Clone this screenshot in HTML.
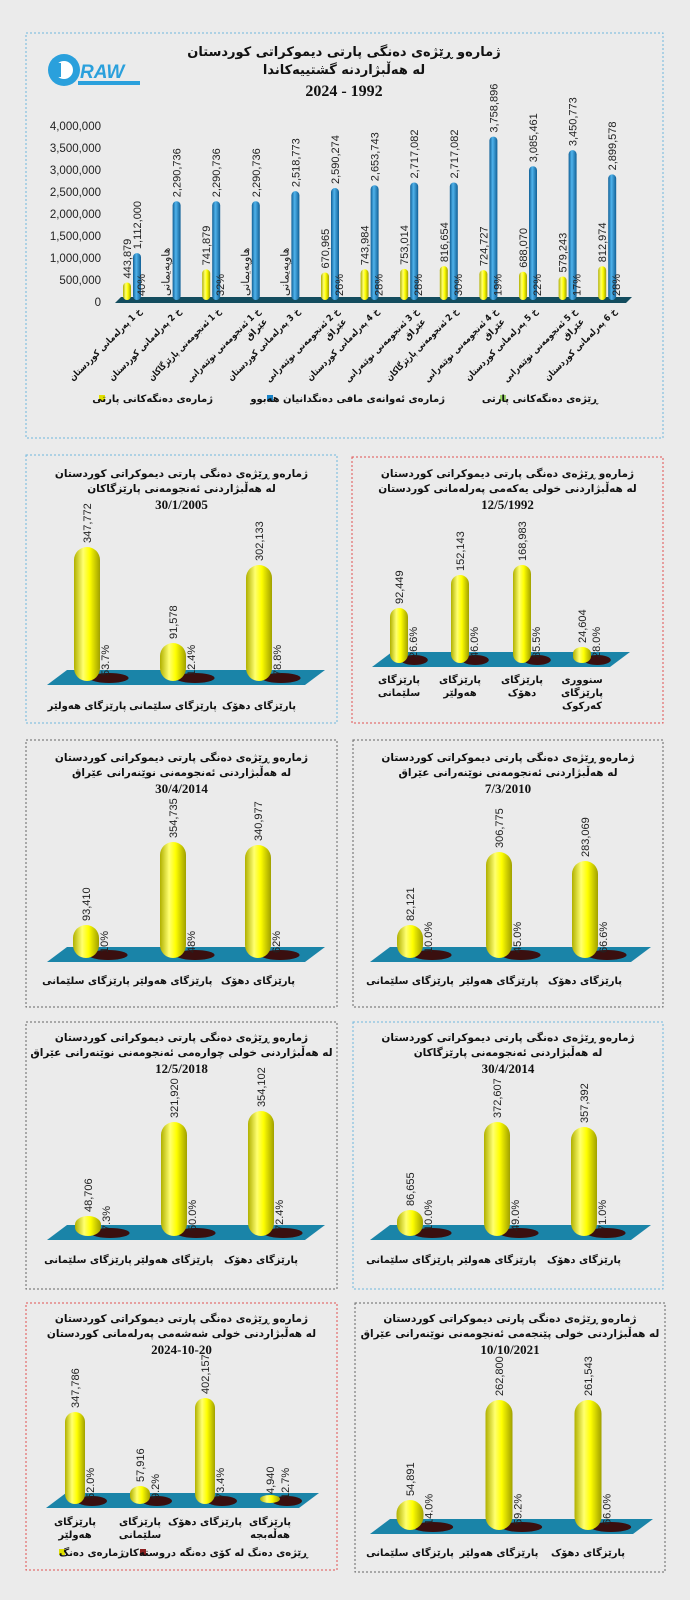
<!DOCTYPE html>
<html><head><meta charset="utf-8">
<style>
html,body{margin:0;padding:0;background:#ebebeb;}
svg{display:block;}
.t{font-family:"DejaVu Sans","Liberation Sans",sans-serif;font-weight:bold;font-size:10.5px;fill:#111;}
.d{font-family:"Liberation Serif",serif;font-weight:bold;font-size:13px;fill:#111;}
.v{font-family:"Liberation Sans",sans-serif;font-size:11px;fill:#222;}
.c{font-family:"DejaVu Sans","Liberation Sans",sans-serif;font-weight:bold;font-size:10px;fill:#111;}
</style></head><body>
<svg id="s" width="690" height="1600" xmlns="http://www.w3.org/2000/svg">
<defs>
<linearGradient id="yg" x1="0" x2="1" y1="0" y2="0"><stop offset="0" stop-color="#b0b000"/><stop offset="0.35" stop-color="#ffff70"/><stop offset="0.6" stop-color="#ffff00"/><stop offset="1" stop-color="#a0a000"/></linearGradient>
<linearGradient id="bg" x1="0" x2="1" y1="0" y2="0"><stop offset="0" stop-color="#115f95"/><stop offset="0.4" stop-color="#4fb3ec"/><stop offset="1" stop-color="#115f95"/></linearGradient>
</defs>
</svg>
<script>
var s=document.getElementById('s'),h='';
function T(x,y,txt,cls,extra){h+='<text x="'+x+'" y="'+y+'" class="'+cls+'" '+(extra||'')+'>'+txt+'</text>';}
function R(x,y,txt,cls){h+='<text class="'+cls+'" transform="translate('+x+','+y+') rotate(-90)">'+txt+'</text>';}
var L1="ژمارەو ڕێژەی دەنگی پارتی دیموکراتی کوردستان";
function panel(x0,y0,x1,y1,col,t2,date,ty,fy,fx0,fx1,bw,bars,ly){
 h+='<rect x="'+x0+'" y="'+y0+'" width="'+(x1-x0)+'" height="'+(y1-y0)+'" fill="none" stroke="'+col+'" stroke-dasharray="2,2" stroke-width="1"/>';
 var cx=(x0+x1)/2;
 T(cx,ty,L1,'t','text-anchor="middle"');T(cx,ty+15,t2,'t','text-anchor="middle"');T(cx,ty+32,date,'d','text-anchor="middle"');
 h+='<polygon points="'+fx0+','+(fy+7)+' '+(fx0+20)+','+(fy-8)+' '+fx1+','+(fy-8)+' '+(fx1-20)+','+(fy+7)+'" fill="#1a84a8"/>';
 bars.forEach(function(b){
  h+='<ellipse cx="'+(b[0]+bw*0.85)+'" cy="'+fy+'" rx="'+(bw*0.75)+'" ry="5" fill="#3a0f0f"/>';
  var ht=fy-b[1];
  if(ht<bw*0.6){h+='<ellipse cx="'+b[0]+'" cy="'+(fy-2)+'" rx="'+(bw/2)+'" ry="4" fill="url(#yg)"/>';}
  else h+='<rect x="'+(b[0]-bw/2)+'" y="'+b[1]+'" width="'+bw+'" height="'+(ht+3)+'" rx="'+(bw/2)+'" ry="'+Math.min(bw/2,ht/2)+'" fill="url(#yg)"/>';
  R(b[0]+4,b[1]-4,b[2],'v');R(b[0]+bw/2+9,fy-2,b[3],'v');
  b[4].forEach(function(l,i){T(b[0],ly+i*13,l,'c','text-anchor="middle"');});
 });
}
// top chart
h+='<rect x="26" y="33" width="637" height="405" fill="none" stroke="#6fb7de" stroke-dasharray="2,2"/>';
h+='<circle cx="64" cy="70" r="16" fill="#2aa0dc"/><circle cx="64" cy="70" r="9" fill="#fff"/><rect x="52" y="63" width="9" height="14" fill="#2aa0dc"/>';
T(80,78,'RAW','t','style="font-family:Liberation Sans;font-size:19px;font-style:italic;fill:#2aa0dc"');
h+='<rect x="78" y="81" width="62" height="4" fill="#2aa0dc"/>';
T(344,56,L1,'t','text-anchor="middle" style="font-size:13px"');
T(344,74,'لە هەڵبژاردنە گشتییەکاندا','t','text-anchor="middle" style="font-size:13px"');
T(344,96,'2024 - 1992','d','text-anchor="middle" style="font-size:16px"');
for(var i=0;i<=8;i++){var yy=302-i*22;T(101,yy+4,(i*500000).toLocaleString('en-US'),'v','text-anchor="end" style="font-size:11.5px"');}
h+='<polygon points="115,303 121,297 632,297 626,303" fill="#134c5e"/>';
var blue=[1112000,2290736,2290736,2290736,2518773,2590274,2653743,2717082,2717082,3758896,3085461,3450773,2899578];
var yel=[443879,null,741879,null,null,670965,743984,753014,816654,724727,688070,579243,812974];
var pct=['40%','','32%','','','26%','28%','28%','30%','19%','22%','17%','28%'];
var xl=['خ 1 پەرلەمانی کوردستان','خ 2 پەرلەمانی کوردستان','خ 1 ئەنجومەنی پارێزگاکان','خ 1 ئەنجومەنی نوێنەرانی|عێراق','خ 3 پەرلەمانی کوردستان','خ 2 ئەنجومەنی نوێنەرانی|عێراق','خ 4 پەرلەمانی کوردستان','خ 3 ئەنجومەنی نوێنەرانی|عێراق','خ 2 ئەنجومەنی پارێزگاکان','خ 4 ئەنجومەنی نوێنەرانی|عێراق','خ 5 پەرلەمانی کوردستان','خ 5 ئەنجومەنی نوێنەرانی|عێراق','خ 6 پەرلەمانی کوردستان'];
var k=44e-6;
for(var i=0;i<13;i++){
 var x=127+i*39.6,bx=x+10;
 var bt=302-blue[i]*k;
 h+='<rect x="'+(bx-4)+'" y="'+bt+'" width="8" height="'+(300-bt)+'" rx="4" fill="url(#bg)"/>';
 R(bx+4,bt-4,blue[i].toLocaleString('en-US'),'v');
 if(yel[i]){var yt=302-yel[i]*k;h+='<rect x="'+(x-4)+'" y="'+yt+'" width="8" height="'+(300-yt)+'" rx="4" fill="url(#yg)"/>';R(x+4,yt-4,yel[i].toLocaleString('en-US'),'v');}
 else R(x+3,296,'هاوپەیمانی','v');
 if(pct[i])R(bx+8,296,pct[i],'v');
 var parts=xl[i].split('|');
 h+='<g transform="translate('+(x+15)+',312) rotate(-45)">';
 h+='<text class="c" x="0" y="0" text-anchor="end" style="font-size:9px" textLength="'+(parts.length>1?100:98)+'" lengthAdjust="spacingAndGlyphs">'+parts[0]+'</text>';
 if(parts[1])h+='<text class="c" x="-2" y="12" text-anchor="end" style="font-size:9px">'+parts[1]+'</text>';
 h+='</g>';
}
h+='<rect x="99" y="395" width="6" height="6" fill="#e0e000"/>';T(213,402,'ژمارەی دەنگەکانی پارتی','c','text-anchor="end"');
h+='<rect x="267" y="395" width="6" height="6" fill="#1a84c8"/>';T(445,402,'ژمارەی ئەوانەی مافی دەنگدانیان هەبوو','c','text-anchor="end"');
h+='<rect x="500" y="395" width="6" height="6" fill="#9bd36a"/>';T(598,402,'ڕێژەی دەنگەکانی پارتی','c','text-anchor="end"');
var HW='پارێزگای هەولێر',SL='پارێزگای سلێمانی',DH='پارێزگای دهۆک';
panel(26,455,337,723,'#6fb7de','لە هەڵبژاردنی ئەنجومەنی پارێزگاکان','30/1/2005',477,678,47,325,26,
 [[87,547,'347,772','53.7%',[HW]],[173,643,'91,578','12.4%',[SL]],[259,565,'302,133','78.8%',[DH]]],709);
panel(352,457,663,723,'#e05050','لە هەڵبژاردنی خولی یەکەمی پەرلەمانی کوردستان','12/5/1992',477,660,372,630,18,
 [[399,608,'92,449','26.6%',['پارێزگای','سلێمانی']],[460,575,'152,143','46.0%',['پارێزگای','هەولێر']],[522,565,'168,983','85.5%',['پارێزگای','دهۆک']],[582,647,'24,604','28.0%',['سنووری','پارێزگای','کەرکوک']]],683);
panel(26,740,337,1007,'#666','لە هەڵبژاردنی ئەنجومەنی نوێنەرانی عێراق','30/4/2014',761,955,47,325,26,
 [[86,925,'93,410','10%',[SL]],[173,842,'354,735','48%',[HW]],[258,845,'340,977','62%',[DH]]],984);
panel(353,740,663,1007,'#666','لە هەڵبژاردنی ئەنجومەنی نوێنەرانی عێراق','7/3/2010',761,955,370,651,26,
 [[410,925,'82,121','10.0%',[SL]],[499,852,'306,775','45.0%',[HW]],[585,861,'283,069','66.6%',[DH]]],984);
panel(26,1022,337,1289,'#666','لە هەڵبژاردنی خولی چوارەمی ئەنجومەنی نوێنەرانی عێراق','12/5/2018',1041,1233,47,325,26,
 [[88,1216,'48,706','7.3%',[SL]],[174,1122,'321,920','50.0%',[HW]],[261,1111,'354,102','72.4%',[DH]]],1263);
panel(353,1022,663,1289,'#6fb7de','لە هەڵبژاردنی ئەنجومەنی پارێزگاکان','30/4/2014',1041,1233,370,651,26,
 [[410,1210,'86,655','10.0%',[SL]],[497,1122,'372,607','49.0%',[HW]],[584,1127,'357,392','71.0%',[DH]]],1263);
panel(26,1303,337,1570,'#e05050','لە هەڵبژاردنی خولی شەشەمی پەرلەمانی کوردستان','2024-10-20',1322,1501,46,319,20,
 [[75,1412,'347,786','52.0%',['پارێزگای','هەولێر']],[140,1486,'57,916','9.2%',['پارێزگای','سلێمانی']],[205,1398,'402,157','73.4%',[DH]],[270,1498,'4,940','12.7%',['پارێزگای','هەڵەبجە']]],1525);
h+='<rect x="59" y="1549" width="6" height="6" fill="#e0e000"/>';T(124,1556,'ژمارەی دەنگ','c','text-anchor="end"');
h+='<rect x="140" y="1549" width="6" height="6" fill="#8a2020"/>';T(308,1556,'ڕێژەی دەنگ لە کۆی دەنگە دروستەکان','c','text-anchor="end"');
panel(355,1303,665,1572,'#666','لە هەڵبژاردنی خولی پێنجەمی ئەنجومەنی نوێنەرانی عێراق','10/10/2021',1322,1527,370,653,27,
 [[410,1500,'54,891','14.0%',[SL]],[499,1400,'262,800','59.2%',[HW]],[588,1400,'261,543','66.0%',[DH]]],1556);
s.insertAdjacentHTML('beforeend',h);
</script>
</body></html>
